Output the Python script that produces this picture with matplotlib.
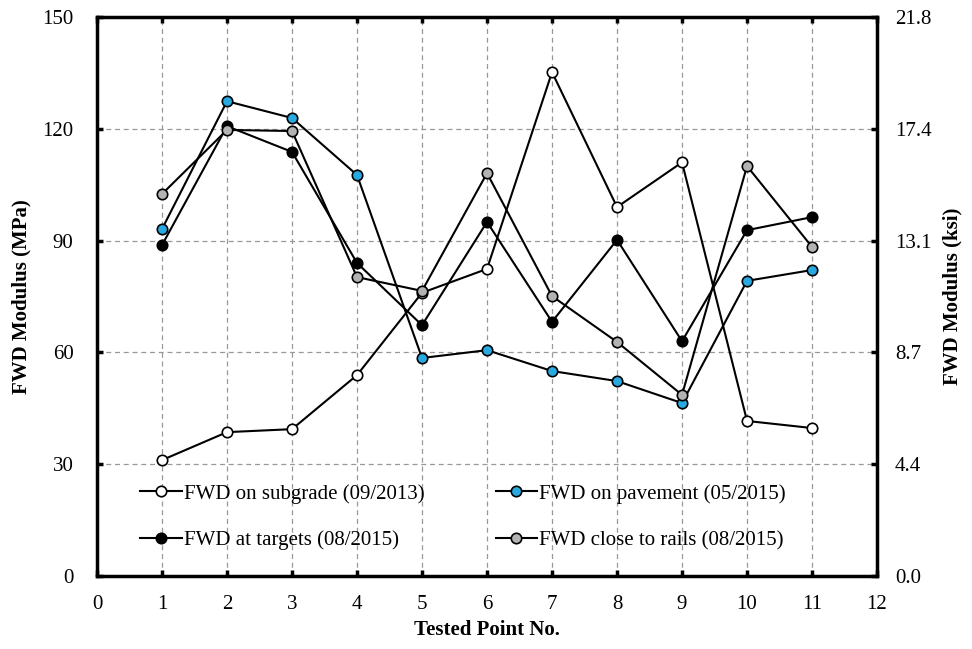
import numpy as np
import matplotlib.pyplot as plt

plt.rcParams['font.family'] = ['Liberation Serif', 'DejaVu Serif']

points = np.arange(1, 12)
subgrade = [31.1, 38.6, 39.4, 53.9, 76.0, 82.4, 135.2, 99.0, 111.0, 41.6, 39.7]
pavement = [93.1, 127.4, 122.9, 107.6, 58.5, 60.6, 55.0, 52.3, 46.4, 79.2, 82.1]
targets = [88.8, 120.7, 113.8, 84.0, 67.3, 95.0, 68.2, 90.2, 63.0, 92.8, 96.3]
rails = [102.5, 119.7, 119.4, 80.2, 76.5, 108.1, 75.1, 62.8, 48.6, 110.0, 88.3]

labels = ['FWD on subgrade (09/2013)', 'FWD on pavement (05/2015)',
          'FWD at targets (08/2015)', 'FWD close to rails (08/2015)']
mpa_ticks = [0, 30, 60, 90, 120, 150]
MPA_TO_KSI = 0.145038

fig = plt.figure(figsize=(9.72, 6.49), dpi=100)
ax = fig.add_axes([0.0998, 0.1125, 0.8025, 0.8613])

ms = 7.5
l1, = ax.plot(points, subgrade, '-o', color='black', lw=1.5, mfc='white', mec='black', ms=ms, mew=1.2)
l2, = ax.plot(points, pavement, '-o', color='black', lw=1.5, mfc='#29a9e1', mec='black', ms=ms, mew=1.2)
l3, = ax.plot(points, targets, '-o', color='black', lw=1.5, mfc='black', mec='black', ms=ms, mew=1.2)
l4, = ax.plot(points, rails, '-o', color='black', lw=1.5, mfc='#b3b3b3', mec='black', ms=ms, mew=1.2)

ax.set_xlim(0, 12)
ax.set_ylim(0, 150)
ax.set_xticks(range(0, 13))
ax.set_yticks(mpa_ticks)
ax.grid(True, ls=(0, (4, 3)), color='#999999', lw=0.9)
ax.set_axisbelow(True)
ax.tick_params(axis='x', direction='in', length=4, width=2.5, labelsize=15, top=True, pad=14)
ax.tick_params(axis='y', direction='in', length=4, width=2.5, labelsize=15, pad=17)
for s in ax.spines.values():
    s.set_linewidth(2.5)
ax.set_xlabel('Tested Point No.', fontsize=15, fontweight='bold', labelpad=4)
ax.set_ylabel('FWD Modulus (MPa)', fontsize=15, fontweight='bold', labelpad=8)

ax2 = ax.twinx()
ax2.set_ylim(0, 150)
ax2.set_yticks(mpa_ticks)
ax2.set_yticklabels(['%.1f' % (v * MPA_TO_KSI) for v in mpa_ticks])
ax2.tick_params(direction='in', length=4, width=2.5, labelsize=15, pad=13)
ax2.set_ylabel('FWD Modulus (ksi)', fontsize=15, fontweight='bold', labelpad=8)

# legend fills column-wise, so reorder to get row-wise layout
ax.legend([l1, l3, l2, l4], [labels[0], labels[2], labels[1], labels[3]], ncol=2,
          loc='lower left', bbox_to_anchor=(0.045, 0.031),
          frameon=False, fontsize=15, handlelength=2.0, handletextpad=0.1,
          columnspacing=3.4, labelspacing=1.3, borderaxespad=0)

fig.savefig('out.png', dpi=100)
